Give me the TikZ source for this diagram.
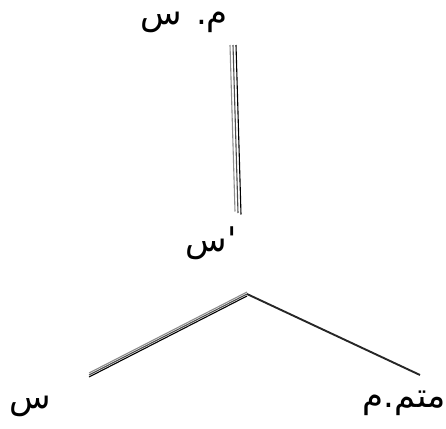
\documentclass[tikz,border=0pt]{standalone}
\usepackage{fontspec}
\newfontfamily\arabicfont[Script=Arabic]{DejaVu Sans}
\TeXXeTstate=1
\begin{document}
\begin{tikzpicture}[x=1pt,y=-1pt,
  lbl/.style={font=\arabicfont\fontsize{34}{36}\selectfont, inner sep=0pt,
    text height=15pt, text depth=9pt},
  strokeA/.style={line width=1.1pt, black!45},
  strokeB/.style={line width=1.1pt, black!70},
  strokeC/.style={line width=1.1pt, black},
  strokeR/.style={line width=1.9pt, black!85}]
\useasboundingbox (0,0) rectangle (446,428);
\node[lbl] (top) at (184,22) {\beginR م. س\endR};
\node[lbl] (mid) at (211,248) {\beginR 'س\endR};
\node[lbl] (bl) at (30,405) {\beginR س\endR};
\node[lbl] (br) at (404,404) {\beginR متم.م\endR};
% connector end points
\coordinate (t1) at (233,45);
\coordinate (t2) at (238,213);
\coordinate (apex) at (247,294);
\coordinate (l2) at (89,375);
\coordinate (r2) at (420,375);
% top connector (three fine strokes)
\draw[strokeA] ([xshift=-3pt]t1) -- ([xshift=-3pt,yshift=1.5pt]t2);
\draw[strokeB] (t1) -- (t2);
\draw[strokeC] ([xshift=3pt]t1) -- ([xshift=3pt,yshift=-1.5pt]t2);
% left connector (three fine strokes)
\draw[strokeA] ([yshift=2pt]apex) -- ([yshift=2pt]l2);
\draw[strokeB] (apex) -- (l2);
\draw[strokeC] ([yshift=-2pt]apex) -- ([yshift=-2pt]l2);
% right connector
\draw[strokeR] (apex) -- (r2);
\end{tikzpicture}
\end{document}
